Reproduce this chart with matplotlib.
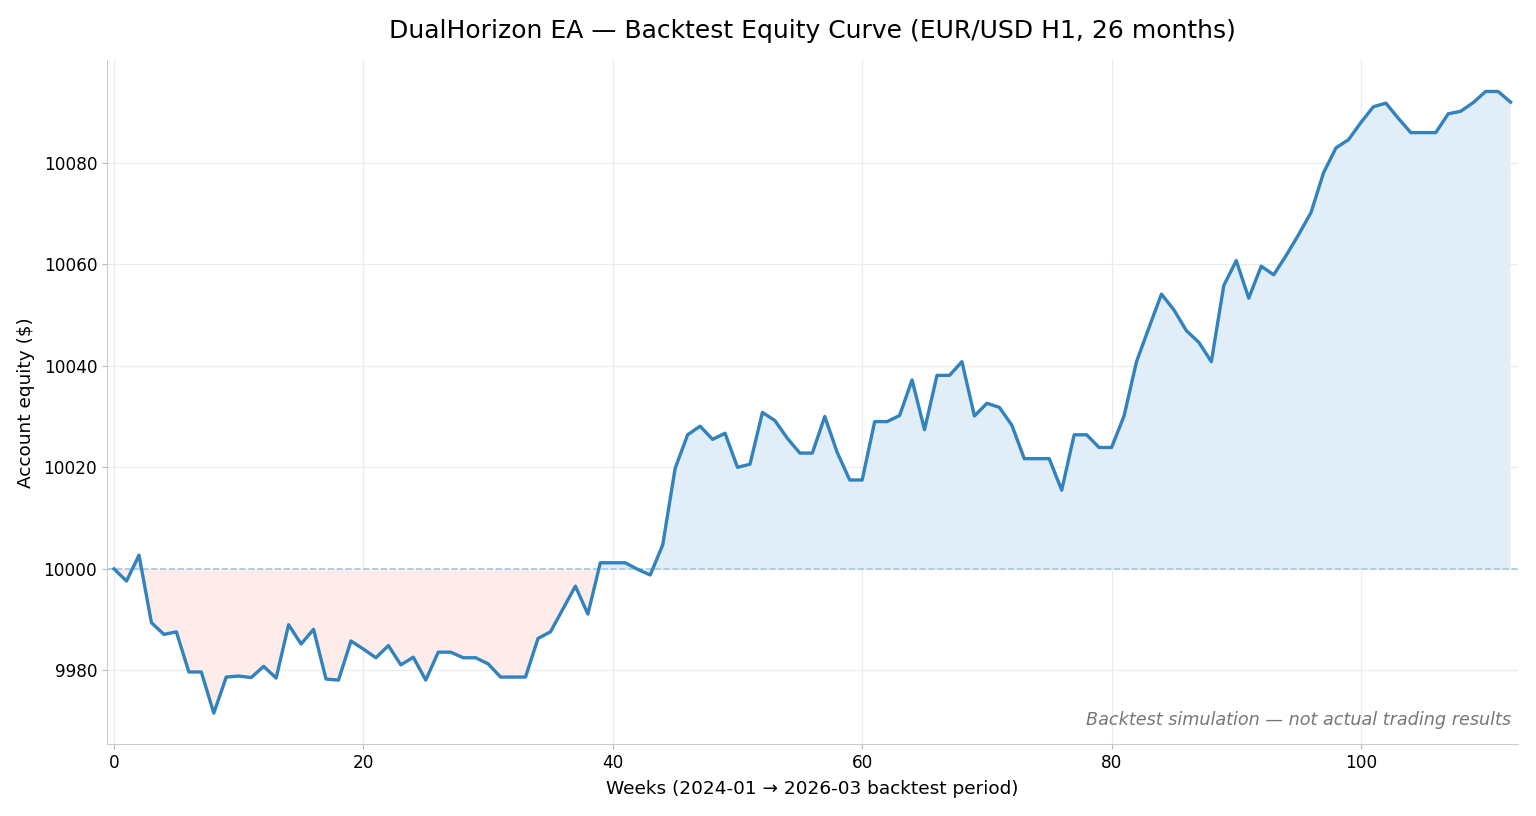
import numpy as np
import matplotlib
matplotlib.use("Agg")
import matplotlib.pyplot as plt

# Weekly account equity (weeks 0..112)
equity = [
    10000.0, 9997.6, 10002.7, 9989.4, 9987.1, 9987.6, 9979.7, 9979.7, 9971.6, 9978.7,
    9978.9, 9978.6, 9980.8, 9978.5, 9989.0, 9985.2, 9988.1, 9978.3, 9978.1, 9985.8,
    9984.2, 9982.5, 9984.9, 9981.1, 9982.6, 9978.1, 9983.6, 9983.6, 9982.5, 9982.5,
    9981.3, 9978.7, 9978.7, 9978.7, 9986.3, 9987.6, 9992.1, 9996.6, 9991.1, 10001.2,
    10001.2, 10001.2, 9999.9, 9998.8, 10004.7, 10019.8, 10026.4, 10028.1, 10025.5, 10026.7,
    10020.0, 10020.6, 10030.8, 10029.2, 10025.7, 10022.8, 10022.8, 10030.0, 10022.9, 10017.5,
    10017.5, 10029.0, 10029.0, 10030.2, 10037.2, 10027.4, 10038.1, 10038.1, 10040.8, 10030.1,
    10032.6, 10031.8, 10028.3, 10021.7, 10021.7, 10021.7, 10015.5, 10026.4, 10026.4, 10023.9,
    10023.9, 10030.1, 10040.8, 10047.5, 10054.1, 10051.0, 10046.9, 10044.6, 10040.8, 10055.8,
    10060.7, 10053.3, 10059.6, 10057.9, 10061.7, 10065.8, 10070.2, 10078.0, 10082.9, 10084.5,
    10087.9, 10091.0, 10091.7, 10088.7, 10085.9, 10085.9, 10085.9, 10089.6, 10090.1, 10091.8,
    10094.0, 10094.0, 10091.9,
]
start_balance = 10000

weeks = np.arange(len(equity))
eq = np.array(equity)

fig, ax = plt.subplots(figsize=(15.36, 8.16), dpi=100)
fig.subplots_adjust(left=0.0697, right=0.988, top=0.926, bottom=0.088)

ax.fill_between(weeks, eq, start_balance, where=eq >= start_balance,
                interpolate=True, color="#e1edf7", linewidth=0)
ax.fill_between(weeks, eq, start_balance, where=eq < start_balance,
                interpolate=True, color="#fdecea", linewidth=0)
ax.axhline(start_balance, color="#9ecae1", linestyle="--", linewidth=1.2)
ax.plot(weeks, eq, color="#3182bd", linewidth=2.4)

ax.margins(x=0.005)
ax.set_title("DualHorizon EA — Backtest Equity Curve (EUR/USD H1, 26 months)",
             fontsize=18, pad=16)
ax.set_xlabel("Weeks (2024-01 → 2026-03 backtest period)", fontsize=13.3, labelpad=6)
ax.set_ylabel("Account equity ($)", fontsize=13.3, labelpad=6)
ax.tick_params(labelsize=12.2, color="#bbbbbb")
ax.set_xticks([0, 20, 40, 60, 80, 100])
ax.set_yticks([9980, 10000, 10020, 10040, 10060, 10080])

ax.grid(True, color="#ebebeb", linewidth=0.9)
ax.set_axisbelow(True)
for side in ["top", "right"]:
    ax.spines[side].set_visible(False)
for side in ["left", "bottom"]:
    ax.spines[side].set_color("#cccccc")

ax.text(0.995, 0.022, "Backtest simulation — not actual trading results",
        transform=ax.transAxes, ha="right", va="bottom",
        fontsize=12.7, style="italic", color="#777777")

plt.savefig("out.png", dpi=100)
